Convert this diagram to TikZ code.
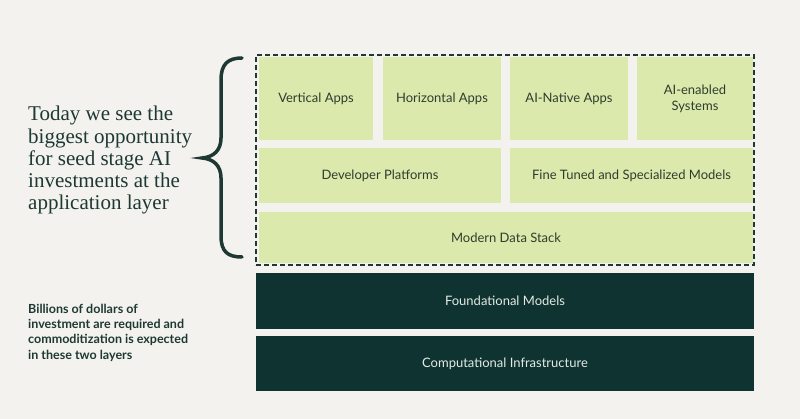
\documentclass[tikz,border=0pt]{standalone}
\usepackage{fontspec}
\setmainfont{Liberation Serif}
\newfontfamily\labelsans{Lato}
\newfontfamily\boldsans{Lato}
\definecolor{bgc}{HTML}{F3F2EE}
\definecolor{lgc}{HTML}{DCE9AD}
\definecolor{dkc}{HTML}{0E3331}
\definecolor{lgtext}{HTML}{2E3D2C}
\definecolor{dktext}{HTML}{E3EBE3}
\definecolor{inkc}{HTML}{1E3833}
\tikzset{
  lbox/.style={rectangle, fill=lgc, draw=none, text=lgtext, font=\labelsans\fontsize{13}{16}\selectfont, align=center, inner sep=0pt, outer sep=0pt},
  dbox/.style={rectangle, fill=dkc, draw=none, text=dktext, font=\labelsans\fontsize{13}{16}\selectfont, align=center, inner sep=0pt, outer sep=0pt},
  applayer/.style={rectangle, draw=inkc, dash pattern=on 5pt off 3pt, line width=1.5pt, inner sep=0pt, outer sep=0pt},
}
\begin{document}
\begin{tikzpicture}[x=1pt,y=-1pt]
\fill[bgc] (0,0) rectangle (800,419);
\useasboundingbox (0,0) rectangle (800,419);
% application layer boxes
\node[lbox, minimum width=114pt, minimum height=83pt] (vert) at (316,98.5) {Vertical Apps};
\node[lbox, minimum width=118pt, minimum height=83pt] (horiz) at (442,98.5) {Horizontal Apps};
\node[lbox, minimum width=118pt, minimum height=83pt] (native) at (569,98.5) {AI-Native Apps};
\node[lbox, minimum width=116pt, minimum height=83pt] (enabled) at (695,98.5) {AI-enabled\\Systems};
\node[lbox, minimum width=242pt, minimum height=55pt] (dev) at (380,175.5) {Developer Platforms};
\node[lbox, minimum width=243pt, minimum height=55pt] (fine) at (631.5,175.5) {Fine Tuned and Specialized Models};
\node[lbox, minimum width=494pt, minimum height=51pt] (mds) at (506,237.5) {Modern Data Stack};
\node[applayer, minimum width=498pt, minimum height=210pt] (app) at (505,160) {};
% lower layers
\node[dbox, minimum width=498pt, minimum height=56pt] (found) at (505,301) {Foundational Models};
\node[dbox, minimum width=498pt, minimum height=55pt] (comp) at (505,363.5) {Computational Infrastructure};
% brace
\draw[inkc, line width=3.5pt, line cap=round]
  (242,58) .. controls (228,58) and (221,64) .. (221,80)
  -- (221,138) .. controls (221,150) and (214,157) .. (202,158)
  .. controls (214,159) and (221,166) .. (221,178)
  -- (221,236) .. controls (221,252) and (228,257) .. (242,257);
% left texts
\node[anchor=north west, inner sep=0pt, align=left, text=inkc, font=\fontsize{21}{22.3}\selectfont] (today) at (28,106)
  {Today we see the\\biggest opportunity\\for seed stage AI\\investments at the\\application layer};
\node[anchor=north west, inner sep=0pt, align=left, text=inkc, font=\boldsans\bfseries\fontsize{12.5}{15.2}\selectfont] (billions) at (28,304)
  {Billions of dollars of\\investment are required and\\commoditization is expected\\in these two layers};
\end{tikzpicture}
\end{document}
